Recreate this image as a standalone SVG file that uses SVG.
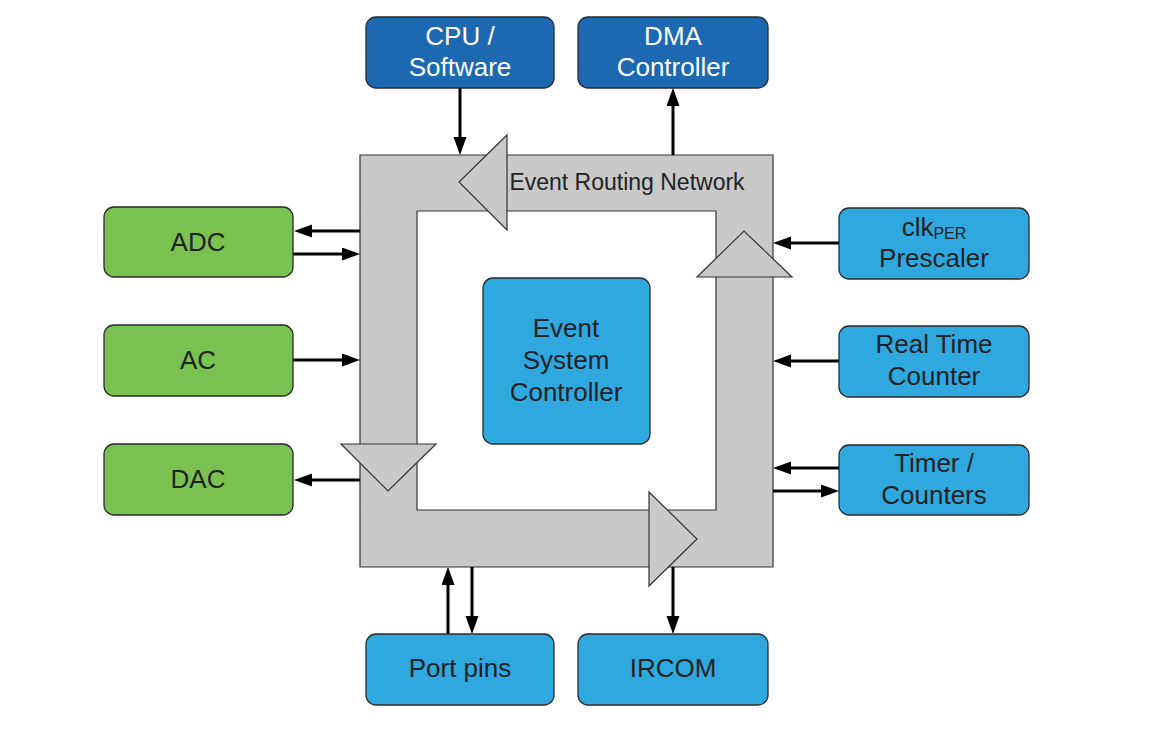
<svg xmlns="http://www.w3.org/2000/svg" width="1169" height="749" viewBox="0 0 1169 749">
<defs>
<style>
.box{stroke:#2b2b2b;stroke-width:1.3}
.dk{fill:#1c69b1}
.lt{fill:#2fa8df}
.gr{fill:#79c251}
.t{font-family:"Liberation Sans",Arial,sans-serif;font-size:26px;text-anchor:middle;fill:#222}
.tw{fill:#fff}
.net{fill:#c8c9c8;stroke:#333;stroke-width:1.2}
.c{stroke:#000;stroke-width:3;fill:none;marker-end:url(#ah)}
</style>
<marker id="ah" markerUnits="userSpaceOnUse" markerWidth="18" markerHeight="14" refX="10" refY="6.5" orient="auto">
<path d="M0,0 L18,6.5 L0,13 z" fill="#000"/>
</marker>
</defs>
<rect width="1169" height="749" fill="#fff"/>
<g id="network">
<path class="net" fill-rule="evenodd" d="M360,155 H773 V567 H360 Z M417,211 V510 H716 V211 Z"/>
<polygon class="net" points="507,155 507,135 459,182 507,230 507,211"/>
<polygon class="net" points="360,444 341,444 388,491 436,444 417,444"/>
<polygon class="net" points="649,510 649,492 697,539 649,586 649,567"/>
<polygon class="net" points="773,277 792,277 744,231 697,277 716,277"/>
<text x="627" y="190" class="t" style="font-size:23px">Event Routing Network</text>
</g>
<g id="connectors">
<line class="c" x1="460" y1="88" x2="460" y2="147"/>
<line class="c" x1="673" y1="155" x2="673" y2="96"/>
<line class="c" x1="360" y1="231" x2="302" y2="231"/>
<line class="c" x1="293" y1="254" x2="352" y2="254"/>
<line class="c" x1="293" y1="360" x2="352" y2="360"/>
<line class="c" x1="360" y1="480" x2="302" y2="480"/>
<line class="c" x1="839" y1="243" x2="781" y2="243"/>
<line class="c" x1="839" y1="361" x2="781" y2="361"/>
<line class="c" x1="839" y1="468" x2="781" y2="468"/>
<line class="c" x1="773" y1="491" x2="831" y2="491"/>
<line class="c" x1="448" y1="634" x2="448" y2="575"/>
<line class="c" x1="472" y1="567" x2="472" y2="626"/>
<line class="c" x1="673" y1="567" x2="673" y2="626"/>
</g>
<g id="cpu">
<rect class="box dk" x="366" y="17" width="188" height="71" rx="10"/>
<text class="t tw" x="460" y="45">CPU /</text>
<text class="t tw" x="460" y="76">Software</text>
</g>
<g id="dma">
<rect class="box dk" x="578" y="17" width="190" height="71" rx="10"/>
<text class="t tw" x="673" y="45">DMA</text>
<text class="t tw" x="673" y="76">Controller</text>
</g>
<g id="adc">
<rect class="box gr" x="104" y="207" width="189" height="70" rx="10"/>
<text class="t" x="198" y="251">ADC</text>
</g>
<g id="ac">
<rect class="box gr" x="104" y="325" width="189" height="71" rx="10"/>
<text class="t" x="198" y="369">AC</text>
</g>
<g id="dac">
<rect class="box gr" x="104" y="444" width="189" height="71" rx="10"/>
<text class="t" x="198" y="488">DAC</text>
</g>
<g id="esc">
<rect class="box lt" x="483" y="278" width="167" height="166" rx="10"/>
<text class="t" x="566" y="337">Event</text>
<text class="t" x="566" y="369">System</text>
<text class="t" x="566" y="401">Controller</text>
</g>
<g id="clk">
<rect class="box lt" x="839" y="208" width="190" height="71" rx="10"/>
<text class="t" x="934" y="236">clk<tspan dy="3" style="font-size:16px">PER</tspan></text>
<text class="t" x="934" y="267">Prescaler</text>
</g>
<g id="rtc">
<rect class="box lt" x="839" y="326" width="190" height="71" rx="10"/>
<text class="t" x="934" y="353">Real Time</text>
<text class="t" x="934" y="385">Counter</text>
</g>
<g id="tc">
<rect class="box lt" x="839" y="445" width="190" height="70" rx="10"/>
<text class="t" x="934" y="472">Timer /</text>
<text class="t" x="934" y="504">Counters</text>
</g>
<g id="port">
<rect class="box lt" x="366" y="634" width="188" height="71" rx="10"/>
<text class="t" x="460" y="677">Port pins</text>
</g>
<g id="ircom">
<rect class="box lt" x="578" y="634" width="190" height="71" rx="10"/>
<text class="t" x="673" y="677">IRCOM</text>
</g>
</svg>
